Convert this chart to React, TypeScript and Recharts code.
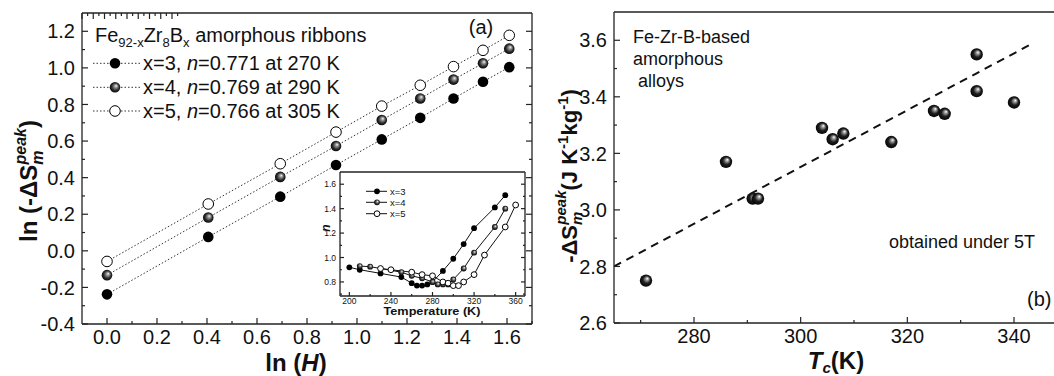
import React from 'react';
import { ComposedChart, Line, Scatter, XAxis, YAxis } from 'recharts';

const FONT = "Arial, 'Liberation Sans', Helvetica, sans-serif";

// ---------- Panel (a): ln(-dS) vs ln(H) ----------
const lnH = [0, 0.405, 0.693, 0.916, 1.099, 1.253, 1.386, 1.504, 1.609];
const lnS_x3 = [-0.238, 0.076, 0.296, 0.469, 0.609, 0.727, 0.833, 0.924, 1.004];
const lnS_x4 = [-0.133, 0.182, 0.404, 0.573, 0.715, 0.833, 0.936, 1.025, 1.105];
const lnS_x5 = [-0.058, 0.256, 0.476, 0.649, 0.791, 0.905, 1.007, 1.096, 1.178];
const legendX = ['x=3', 'x=4', 'x=5'];
const legendN = ['0.771', '0.769', '0.766'];
const legendT = ['270', '290', '305'];

const aXTicks = [0, 0.1, 0.2, 0.3, 0.4, 0.5, 0.6, 0.7, 0.8, 0.9, 1.0, 1.1, 1.2, 1.3, 1.4, 1.5, 1.6, 1.7];
const aXMajors = [0, 0.2, 0.4, 0.6, 0.8, 1.0, 1.2, 1.4, 1.6];
const aYTicks = [-0.4, -0.3, -0.2, -0.1, 0, 0.1, 0.2, 0.3, 0.4, 0.5, 0.6, 0.7, 0.8, 0.9, 1.0, 1.1, 1.2];
const aYMajors = [-0.4, -0.2, 0, 0.2, 0.4, 0.6, 0.8, 1.0, 1.2];

// ---------- Inset: n vs temperature ----------
const inT3 = [200, 210, 230, 250, 260, 265, 270, 275, 280, 290, 300, 310, 320, 340, 350];
const inN3 = [0.92, 0.90, 0.87, 0.84, 0.79, 0.77, 0.77, 0.78, 0.80, 0.89, 0.99, 1.11, 1.24, 1.41, 1.51];
const inT4 = [210, 220, 250, 260, 270, 280, 285, 290, 295, 300, 310, 320, 340, 350];
const inN4 = [0.93, 0.925, 0.88, 0.85, 0.83, 0.80, 0.78, 0.78, 0.78, 0.82, 0.91, 1.04, 1.25, 1.40];
const inT5 = [230, 240, 260, 270, 280, 290, 295, 300, 305, 310, 320, 330, 350, 360];
const inN5 = [0.91, 0.90, 0.88, 0.86, 0.85, 0.80, 0.79, 0.77, 0.77, 0.80, 0.86, 1.02, 1.25, 1.43];
const inXTicks = [200, 220, 240, 260, 280, 300, 320, 340, 360];
const inXMajors = [200, 240, 280, 320, 360];
const inYTicks = [0.7, 0.8, 0.9, 1.0, 1.1, 1.2, 1.3, 1.4, 1.5, 1.6];
const inYMajors = [0.8, 1.0, 1.2, 1.4, 1.6];

// ---------- Panel (b): -dS peak vs Tc ----------
const tcK = [271, 286, 291, 292, 304, 306, 308, 317, 325, 327, 333, 333, 340];
const dSpeak = [2.75, 3.17, 3.04, 3.04, 3.29, 3.25, 3.27, 3.24, 3.35, 3.34, 3.55, 3.42, 3.38];
const fitT = [265, 343.6];
const fitS = [2.80, 3.59];
const bXTicks = [270, 280, 290, 300, 310, 320, 330, 340];
const bXMajors = [280, 300, 320, 340];
const bYTicks = [2.6, 2.7, 2.8, 2.9, 3.0, 3.1, 3.2, 3.3, 3.4, 3.5, 3.6];
const bYMajors = [2.6, 2.8, 3.0, 3.2, 3.4, 3.6];

const mainRows = lnH.map((h, i) => ({ h, x3: lnS_x3[i], x4: lnS_x4[i], x5: lnS_x5[i] }));
const inset3 = inT3.map((t, i) => ({ t, n: inN3[i] }));
const inset4 = inT4.map((t, i) => ({ t, n: inN4[i] }));
const inset5 = inT5.map((t, i) => ({ t, n: inN5[i] }));
const bRows = tcK.map((t, i) => ({ t, s: dSpeak[i] }));
const fitRows = fitT.map((t, i) => ({ t, f: fitS[i] }));

type Side = 'bottom' | 'left' | 'top' | 'right';
function tickFactory(side: Side, majors: number[], o: { major: number; minor: number; fmt?: (v: number) => string; fontSize?: number; offset?: number }) {
  const fs = o.fontSize ?? 20;
  const off = o.offset ?? 8;
  return (props: any) => {
    const { x, y, payload } = props;
    const v = Number(payload.value);
    const isMajor = majors.some((m) => Math.abs(m - v) < 1e-6);
    const len = isMajor ? o.major : o.minor;
    let x2 = x, y2 = y;
    if (side === 'bottom') y2 = y - len;
    else if (side === 'top') y2 = y + len;
    else if (side === 'left') x2 = x + len;
    else x2 = x - len;
    return (
      <g>
        <line x1={x} y1={y} x2={x2} y2={y2} stroke="#222" strokeWidth={1.2} />
        {isMajor && o.fmt && side === 'bottom' && (
          <text x={x} y={y + off} textAnchor="middle" fontSize={fs} fontFamily={FONT} fill="#111">{o.fmt(v)}</text>
        )}
        {isMajor && o.fmt && side === 'left' && (
          <text x={x - off} y={y + fs * 0.36} textAnchor="end" fontSize={fs} fontFamily={FONT} fill="#111">{o.fmt(v)}</text>
        )}
      </g>
    );
  };
}

const f1 = (v: number) => v.toFixed(1);
const f0 = (v: number) => String(Math.round(v));
const axisStroke = { stroke: '#222', strokeWidth: 1.3 };

const blackDot = (r: number) => (p: any) => (
  <circle key={`b${p.index}`} cx={p.cx} cy={p.cy} r={r} fill="#000" />
);
const ballDot = (r: number, id: string) => (p: any) => (
  <circle key={`g${p.index}`} cx={p.cx} cy={p.cy} r={r} fill={`url(#${id})`} />
);
const openDot = (r: number) => (p: any) => (
  <circle key={`o${p.index}`} cx={p.cx} cy={p.cy} r={r} fill="#fff" stroke="#000" strokeWidth={1} />
);

function Gradients() {
  return (
    <svg width={0} height={0} style={{ position: 'absolute' }}>
      <defs>
        <radialGradient id="ballA" cx="50%" cy="50%" r="55%" fx="62%" fy="35%">
          <stop offset="0%" stopColor="#f4f4f4" />
          <stop offset="30%" stopColor="#8a8a8a" />
          <stop offset="65%" stopColor="#2a2a2a" />
          <stop offset="100%" stopColor="#000" />
        </radialGradient>
        <radialGradient id="ballB" cx="50%" cy="50%" r="55%" fx="62%" fy="32%">
          <stop offset="0%" stopColor="#ffffff" />
          <stop offset="22%" stopColor="#9a9a9a" />
          <stop offset="55%" stopColor="#1e1e1e" />
          <stop offset="100%" stopColor="#000" />
        </radialGradient>
      </defs>
    </svg>
  );
}

function PanelA() {
  return (
    <ComposedChart width={540} height={376} data={mainRows} margin={{ top: 12, right: 7, bottom: 51, left: 81 }}>
      <XAxis dataKey="h" type="number" domain={[-0.1, 1.7]} allowDataOverflow ticks={aXTicks} interval={0}
        height={1} tickSize={0} tickMargin={0} tickLine={false} axisLine={axisStroke}
        tick={tickFactory('bottom', aXMajors, { major: 6, minor: 3, fmt: f1, fontSize: 20, offset: 20 })} />
      <XAxis xAxisId="top" orientation="top" type="number" domain={[-0.1, 1.7]} allowDataOverflow ticks={aXTicks} interval={0}
        height={1} tickSize={0} tickMargin={0} tickLine={false} axisLine={axisStroke}
        tick={tickFactory('top', aXMajors, { major: 6, minor: 3 })} />
      <YAxis type="number" domain={[-0.4, 1.3]} allowDataOverflow ticks={aYTicks} interval={0}
        width={1} tickSize={0} tickMargin={0} tickLine={false} axisLine={axisStroke}
        tick={tickFactory('left', aYMajors, { major: 6, minor: 3, fmt: f1, fontSize: 20, offset: 7 })} />
      <YAxis yAxisId="right" orientation="right" type="number" domain={[-0.4, 1.3]} allowDataOverflow ticks={aYTicks} interval={0}
        width={1} tickSize={0} tickMargin={0} tickLine={false} axisLine={axisStroke}
        tick={tickFactory('right', aYMajors, { major: 6, minor: 3 })} />
      <Line dataKey="x3" type="linear" stroke="#333" strokeWidth={1} strokeDasharray="1.5 2" dot={blackDot(5.3)} isAnimationActive={false} activeDot={false} />
      <Line dataKey="x4" type="linear" stroke="#333" strokeWidth={1} strokeDasharray="1.5 2" dot={ballDot(5.3, 'ballA')} isAnimationActive={false} activeDot={false} />
      <Line dataKey="x5" type="linear" stroke="#333" strokeWidth={1} strokeDasharray="1.5 2" dot={openDot(5.3)} isAnimationActive={false} activeDot={false} />
    </ComposedChart>
  );
}

function Inset() {
  return (
    <ComposedChart width={235} height={170} margin={{ top: 11, right: 9, bottom: 33, left: 39 }}>
      <XAxis dataKey="t" type="number" domain={[191, 369]} allowDataOverflow ticks={inXTicks} interval={0}
        height={1} tickSize={0} tickMargin={0} tickLine={false} axisLine={axisStroke}
        tick={tickFactory('bottom', inXMajors, { major: 4, minor: 2, fmt: f0, fontSize: 8.5, offset: 8 })} />
      <XAxis xAxisId="top" orientation="top" type="number" domain={[191, 369]} allowDataOverflow ticks={inXTicks} interval={0}
        height={1} tickSize={0} tickMargin={0} tickLine={false} axisLine={axisStroke}
        tick={tickFactory('top', inXMajors, { major: 4, minor: 2 })} />
      <YAxis type="number" domain={[0.685, 1.7]} allowDataOverflow ticks={inYTicks} interval={0}
        width={1} tickSize={0} tickMargin={0} tickLine={false} axisLine={axisStroke}
        tick={tickFactory('left', inYMajors, { major: 4, minor: 2, fmt: f1, fontSize: 8.5, offset: 4 })} />
      <YAxis yAxisId="right" orientation="right" type="number" domain={[0.685, 1.7]} allowDataOverflow ticks={inYTicks} interval={0}
        width={1} tickSize={0} tickMargin={0} tickLine={false} axisLine={axisStroke}
        tick={tickFactory('right', inYMajors, { major: 4, minor: 2 })} />
      <Line data={inset3} dataKey="n" type="linear" stroke="#111" strokeWidth={1} dot={blackDot(2.9)} isAnimationActive={false} activeDot={false} />
      <Line data={inset4} dataKey="n" type="linear" stroke="#111" strokeWidth={1} dot={ballDot(2.9, 'ballA')} isAnimationActive={false} activeDot={false} />
      <Line data={inset5} dataKey="n" type="linear" stroke="#111" strokeWidth={1} dot={openDot(2.9)} isAnimationActive={false} activeDot={false} />
    </ComposedChart>
  );
}

function PanelB() {
  return (
    <ComposedChart width={514} height={376} margin={{ top: 11, right: 0, bottom: 52, left: 73 }}>
      <XAxis dataKey="t" type="number" domain={[265, 347.5]} allowDataOverflow ticks={bXTicks} interval={0}
        height={1} tickSize={0} tickMargin={0} tickLine={false} axisLine={axisStroke}
        tick={tickFactory('bottom', bXMajors, { major: 6, minor: 3, fmt: f0, fontSize: 20, offset: 20 })} />
      <XAxis xAxisId="top" orientation="top" type="number" domain={[265, 347.5]} allowDataOverflow ticks={bXTicks} interval={0}
        height={1} tickSize={0} tickMargin={0} tickLine={false} axisLine={axisStroke}
        tick={tickFactory('top', bXMajors, { major: 6, minor: 3 })} />
      <YAxis type="number" domain={[2.6, 3.7]} allowDataOverflow ticks={bYTicks} interval={0}
        width={1} tickSize={0} tickMargin={0} tickLine={false} axisLine={axisStroke}
        tick={tickFactory('left', bYMajors, { major: 6, minor: 3, fmt: f1, fontSize: 20, offset: 7 })} />
      <Line data={fitRows} dataKey="f" type="linear" stroke="#111" strokeWidth={2} strokeDasharray="8 6" dot={false} isAnimationActive={false} activeDot={false} />
      <Scatter data={bRows} dataKey="s" isAnimationActive={false}
        shape={(p: any) => <circle cx={p.cx} cy={p.cy} r={6.2} fill="url(#ballB)" />} />
    </ComposedChart>
  );
}

function Overlay() {
  const rows = [63.3, 87.3, 111];
  const inRows = [191.3, 202.3, 213.7];
  const markers = [
    (cx: number, cy: number, r: number) => <circle cx={cx} cy={cy} r={r} fill="#000" />,
    (cx: number, cy: number, r: number) => <circle cx={cx} cy={cy} r={r} fill="url(#ballA)" />,
    (cx: number, cy: number, r: number) => <circle cx={cx} cy={cy} r={r} fill="#fff" stroke="#000" strokeWidth={1} />,
  ];
  return (
    <svg width={1054} height={376} style={{ position: 'absolute', left: 0, top: 0, pointerEvents: 'none' }} fontFamily={FONT}>
      {/* Panel (a) texts */}
      <text x={95} y={42} fontSize={20} fill="#111">
        Fe<tspan fontSize={13} dy={5}>92-x</tspan><tspan dy={-5}>Zr</tspan><tspan fontSize={13} dy={5}>8</tspan><tspan dy={-5}>B</tspan><tspan fontSize={13} dy={5}>x</tspan><tspan dy={-5}> amorphous ribbons</tspan>
      </text>
      {rows.map((cy, i) => (
        <g key={i}>
          <line x1={93} y1={cy} x2={140} y2={cy} stroke="#333" strokeWidth={1} strokeDasharray="1.5 2" />
          {markers[i](115, cy, 5.3)}
          <text x={143} y={cy + 7} fontSize={20} fill="#111">
            {legendX[i]}, <tspan fontStyle="italic">n</tspan>={legendN[i]} at {legendT[i]} K
          </text>
        </g>
      ))}
      <text x={481} y={34} fontSize={20} textAnchor="middle" fill="#111">(a)</text>
      <text transform="translate(37,181) rotate(-90)" textAnchor="middle" fontSize={24} fontWeight="bold" fill="#111">
        ln (-ΔS<tspan fontSize={16} fontStyle="italic" dy={6}>m</tspan><tspan fontSize={16} fontStyle="italic" dx={-14} dy={-17}>peak</tspan><tspan dy={11}>)</tspan>
      </text>
      <text x={296} y={371} textAnchor="middle" fontSize={24} fontWeight="bold" fill="#111">
        ln (<tspan fontStyle="italic">H</tspan>)
      </text>
      {/* Inset texts */}
      {inRows.map((cy, i) => (
        <g key={`in${i}`}>
          <line x1={366} y1={cy} x2={387} y2={cy} stroke="#111" strokeWidth={1} />
          {markers[i](377, cy, 2.9)}
          <text x={390} y={cy + 3.3} fontSize={9.5} fill="#111">{legendX[i]}</text>
        </g>
      ))}
      <text x={432} y={315} textAnchor="middle" fontSize={10.5} fontWeight="bold" fill="#111" textLength={97} lengthAdjust="spacingAndGlyphs">Temperature (K)</text>
      <text transform="translate(330,228) rotate(-90)" textAnchor="middle" fontSize={12} fontWeight="bold" fontStyle="italic" fill="#111">n</text>
      {/* Panel (b) texts */}
      <text x={633} y={43} fontSize={18} fill="#111">Fe-Zr-B-based</text>
      <text x={633} y={65} fontSize={18} fill="#111">amorphous</text>
      <text x={638} y={87} fontSize={18} fill="#111">alloys</text>
      <text x={889} y={248} fontSize={18} fill="#111">obtained under 5T</text>
      <text x={1027} y={306} fontSize={20} fill="#111">(b)</text>
      <text transform="translate(577,176) rotate(-90)" textAnchor="middle" fontSize={22} fontWeight="bold" fill="#111">
        -ΔS<tspan fontSize={15} fontStyle="italic" dy={5}>m</tspan><tspan fontSize={15} fontStyle="italic" dx={-13} dy={-16}>peak</tspan><tspan dy={11}>(J K</tspan><tspan fontSize={15} dy={-9}>-1</tspan><tspan dy={9}>kg</tspan><tspan fontSize={15} dy={-9}>-1</tspan><tspan dy={9}>)</tspan>
      </text>
      <text x={836} y={369} textAnchor="middle" fontSize={24} fontWeight="bold" fill="#111">
        <tspan fontStyle="italic">T</tspan><tspan fontSize={15} fontStyle="italic" dy={4}>c</tspan><tspan dy={-4}>(K)</tspan>
      </text>
    </svg>
  );
}

export default function App() {
  return (
    <div style={{ position: 'absolute', left: 0, top: 0, width: 1054, height: 376, background: '#fff', overflow: 'hidden', fontFamily: FONT }}>
      <Gradients />
      <div style={{ position: 'absolute', left: 0, top: 0 }}><PanelA /></div>
      <div style={{ position: 'absolute', left: 540, top: 0 }}><PanelB /></div>
      <div style={{ position: 'absolute', left: 300, top: 160 }}><Inset /></div>
      <Overlay />
    </div>
  );
}
